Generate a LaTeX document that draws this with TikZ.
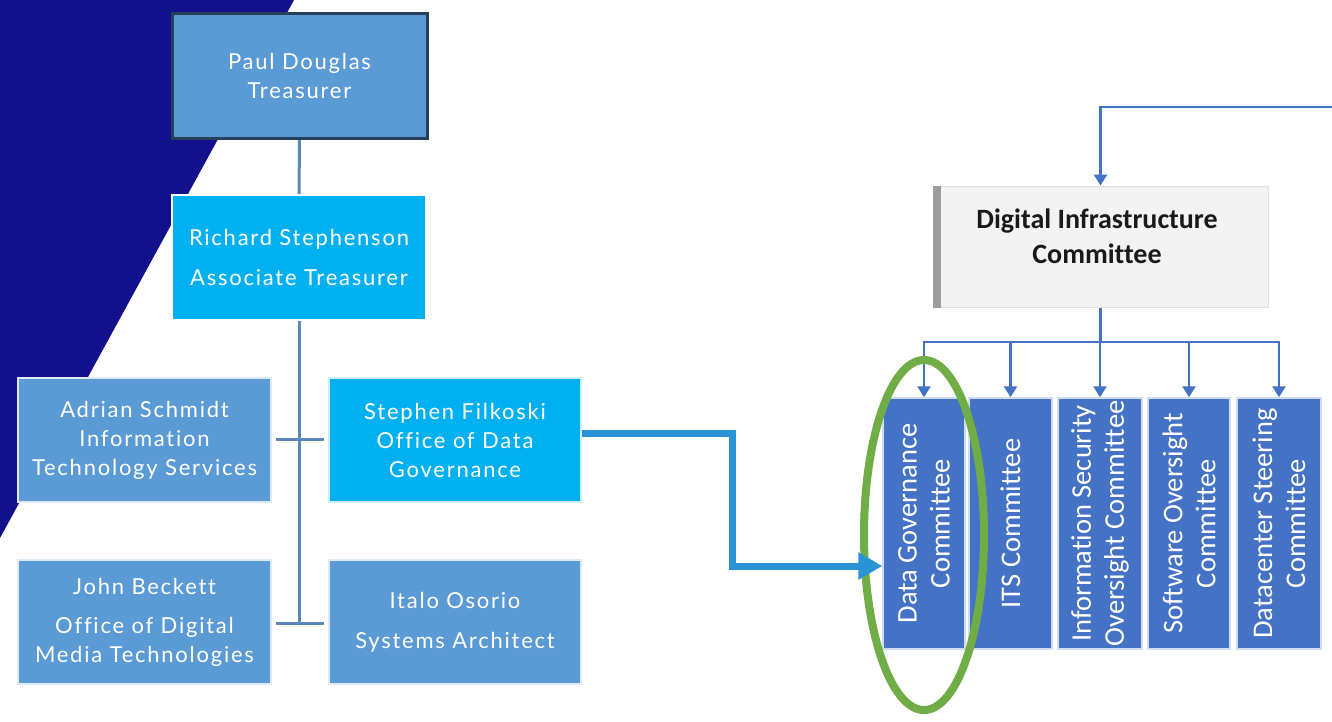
\documentclass[tikz,border=0pt]{standalone}
\usepackage{fontspec}
\newfontfamily\qfont{Lato}[LetterSpace=8,Ligatures=NoCommon]
\newfontfamily\cfont{Carlito}[Ligatures=NoCommon]
\usetikzlibrary{arrows.meta,shapes.geometric}
\definecolor{navy}{HTML}{13108D}
\definecolor{midblue}{HTML}{5B9BD5}
\definecolor{cyanbox}{HTML}{00B0F0}
\definecolor{linkblue}{HTML}{5A88B8}
\definecolor{arrowblue}{HTML}{2A93D5}
\definecolor{comblue}{HTML}{4472C4}
\definecolor{ringgreen}{HTML}{70AD47}
\definecolor{paleg}{HTML}{F3F3F3}
\tikzset{
  person/.style={rectangle, inner sep=0pt, text=white, align=center,
    font=\qfont\fontsize{22}{29}\selectfont, draw=white!80!midblue, line width=1.2pt},
  orgline/.style={draw=linkblue, line width=3pt},
  combox/.style={rectangle, fill=comblue, draw=white!75!comblue, line width=1.5pt,
    minimum height=251pt, inner sep=0pt},
  comtext/.style={rotate=90, text=white, align=center, font=\cfont\fontsize{28.5}{33}\selectfont},
  comarrow/.style={draw=comblue, line width=2.5pt, -{Triangle[width=13pt,length=11pt]}},
}
\begin{document}
\begin{tikzpicture}[x=1pt,y=-1pt]
\useasboundingbox (0,0) rectangle (1332,721);
\fill[white] (0,0) rectangle (1332,721);
\fill[navy] (0,0) -- (294,0) -- (0,538) -- cycle;

% left org chart
\node[person, fill=midblue, draw={rgb,255:red,38;green,64;blue,92}, line width=3pt,
  minimum width=255pt, minimum height=125pt] (paul) at (299.5,76) {Paul Douglas\\Treasurer};
\node[person, fill=cyanbox, draw=white, line width=2pt, minimum width=254pt, minimum height=125pt,
  font=\qfont\fontsize{22}{40}\selectfont] (richard) at (299,257.5) {Richard Stephenson\\Associate Treasurer};
\node[person, fill=midblue, minimum width=253pt, minimum height=124pt] (adrian) at (144.5,440)
  {Adrian Schmidt\\Information\\Technology Services};
\node[person, fill=cyanbox, draw=white!80!cyanbox, minimum width=252pt, minimum height=124pt] (stephen) at (455,440)
  {Stephen Filkoski\\Office of Data\\Governance};
\node[person, fill=midblue, minimum width=253pt, minimum height=124pt] (john) at (144.5,622)
  {John Beckett\\[10pt]Office of Digital\\Media Technologies};
\node[person, fill=midblue, minimum width=252pt, minimum height=124pt,
  font=\qfont\fontsize{22}{40}\selectfont] (italo) at (455,622) {Italo Osorio\\Systems Architect};

\draw[orgline] (paul.south) -- (richard.north);
\coordinate (trunkend) at (richard.south |- john.east);
\draw[orgline] (richard.south) -- ([yshift=-1.5pt]trunkend);
\draw[orgline, shorten <=4pt, shorten >=4pt] ([yshift=1pt]adrian.east) -- ([yshift=1pt]stephen.west);
\draw[orgline, shorten <=4pt, shorten >=4pt] ([yshift=-1pt]john.east) -- ([yshift=-1pt]italo.west);

% right committee chart
\node[rectangle, fill=paleg, draw=black!12, line width=1pt, minimum width=335pt, minimum height=121pt,
  inner sep=0pt] (dic) at (1100.5,246.5) {};
\fill[black!38] (dic.north west) rectangle ([xshift=8pt]dic.south west);
\node[font=\cfont\bfseries\fontsize{28}{35}\selectfont, align=center, text=black!90] (dictext) at (1097,236)
  {Digital Infrastructure\\Committee};

\node[combox, minimum width=82pt] (c1) at (924,523.5) {};
\node[combox, minimum width=83pt] (c2) at (1010.5,523.5) {};
\node[combox, minimum width=84pt] (c3) at (1100,523.5) {};
\node[combox, minimum width=82pt] (c4) at (1189,523.5) {};
\node[combox, minimum width=84pt] (c5) at (1279,523.5) {};
\node[comtext] (t1) at (c1.center) {Data Governance\\Committee};
\node[comtext] (t2) at (c2.center) {ITS Committee};
\node[comtext] (t3) at (c3.center) {Information Security\\Oversight Committee};
\node[comtext] (t4) at (c4.center) {Software Oversight\\Committee};
\node[comtext] (t5) at (c5.center) {Datacenter Steering\\Committee};

\coordinate (feed) at (1332,107);
\draw[comarrow] (feed) -- (feed -| dic.north) -- (dic.north);
\coordinate (bus) at (1102,342);
\draw[draw=comblue, line width=2.5pt] (dic.south) -- (dic.south |- bus);
\draw[draw=comblue, line width=2.5pt] ([xshift=-1.2pt]c1.north |- bus) -- ([xshift=1.2pt]c5.north |- bus);
\foreach \c in {c1,c2,c3,c4,c5}
  \draw[comarrow] (\c.north |- bus) -- (\c.north);

% highlight ring
\node[ellipse, draw=ringgreen, line width=8pt, minimum width=120pt, minimum height=350pt, inner sep=0pt]
  (ring) at (924,535) {};

% thick link arrow
\draw[draw=arrowblue, line width=7pt, -{Triangle[width=26pt,length=24pt]}]
  ([yshift=7pt]stephen.east) -- (732,433) -- (732,566) -- ([yshift=-42.5pt]c1.west);
\end{tikzpicture}
\end{document}
